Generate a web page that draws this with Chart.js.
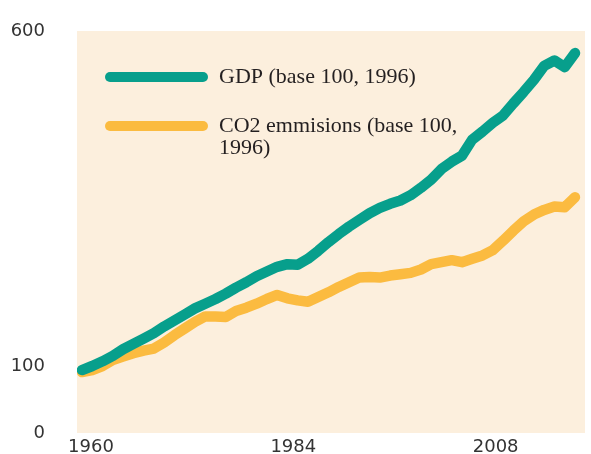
<!DOCTYPE html>
<html>
<head>
<meta charset="utf-8">
<script src="https://cdn.jsdelivr.net/npm/chart.js@4"></script>
<style>
  html, body { margin: 0; padding: 0; background: #ffffff; }
  canvas { display: block; }
</style>
</head>
<body>
<canvas id="c" width="591" height="454"></canvas>
<script>
const years = [1960,1961,1962,1963,1964,1965,1966,1967,1968,1969,
               1970,1971,1972,1973,1974,1975,1976,1977,1978,1979,
               1980,1981,1982,1983,1984,1985,1986,1987,1988,1989,
               1990,1991,1992,1993,1994,1995,1996,1997,1998,1999,
               2000,2001,2002,2003,2004,2005,2006,2007,2008];
const gdp = [94,100,107,115,125,133,141,149,159,168,
             177,186,193,200,208,217,225,234,241,248,
             252,251,260,272,285,297,308,318,328,336,
             342,347,355,366,378,394,405,414,438,450,
             463,474,492,509,527,548,556,546,567];
const co2 = [91,94,100,109,114,119,123,126,135,146,
             156,166,174,174,173,182,187,193,200,206,
             201,198,196,203,210,218,225,232,233,232,
             235,237,239,244,252,255,258,255,260,265,
             273,287,302,316,326,333,338,337,352];
const seriesLabels = ['GDP (base 100, 1996)', 'CO2 emmisions (base 100, 1996)'];
const xTickLabels = [1960, 1984, 2008];
const yTickLabels = [0, 100, 600];

const bgPlugin = {
  id: 'bg',
  beforeDraw(chart) {
    const a = chart.chartArea, ctx = chart.ctx;
    ctx.save();
    ctx.fillStyle = '#fcefdd';
    ctx.fillRect(a.left, a.top, a.right - a.left, a.bottom - a.top);
    ctx.restore();
  }
};

const legendPlugin = {
  id: 'customLegend',
  afterDraw(chart) {
    const ctx = chart.ctx;
    const items = [
      { color: chart.data.datasets[0].borderColor, y: 77, lines: ['GDP (base 100, 1996)'] },
      { color: chart.data.datasets[1].borderColor, y: 126, lines: ['CO2 emmisions (base 100,', '1996)'] }
    ];
    ctx.save();
    items.forEach(it => {
      ctx.strokeStyle = it.color;
      ctx.lineWidth = 10;
      ctx.lineCap = 'round';
      ctx.beginPath();
      ctx.moveTo(110, it.y);
      ctx.lineTo(203, it.y);
      ctx.stroke();
      ctx.fillStyle = '#231f20';
      ctx.font = '22px "Liberation Serif", "Times New Roman", serif';
      ctx.textBaseline = 'alphabetic';
      ctx.textAlign = 'left';
      it.lines.forEach((t, i) => ctx.fillText(t, 219, it.y + 6 + i * 22));
    });
    ctx.restore();
  }
};

new Chart(document.getElementById('c'), {
  type: 'line',
  data: {
    datasets: [
      {
        label: seriesLabels[0],
        data: years.map((y, i) => ({ x: y, y: gdp[i] })),
        borderColor: '#079f8c',
        borderWidth: 10.5,
        borderCapStyle: 'round',
        borderJoinStyle: 'round',
        pointRadius: 0,
        tension: 0,
        xAxisID: 'x',
        yAxisID: 'y'
      },
      {
        label: seriesLabels[1],
        data: years.map((y, i) => ({ x: y, y: co2[i] })),
        borderColor: '#fbbb40',
        borderWidth: 10.5,
        borderCapStyle: 'round',
        borderJoinStyle: 'round',
        pointRadius: 0,
        tension: 0,
        xAxisID: 'x',
        yAxisID: 'y'
      }
    ]
  },
  options: {
    responsive: false,
    devicePixelRatio: 1,
    animation: false,
    layout: { autoPadding: false, padding: { top: 31, right: 6, left: 0, bottom: 0 } },
    plugins: { legend: { display: false }, tooltip: { enabled: false } },
    scales: {
      x: {
        type: 'linear',
        display: false,
        min: 1959.513,
        max: 2008.976
      },
      xl: {
        type: 'linear',
        position: 'bottom',
        min: 1958.345,
        max: 2018.6,
        grid: { display: false, drawTicks: false },
        border: { display: false },
        afterBuildTicks(s) { s.ticks = xTickLabels.map(v => ({ value: v })); },
        afterFit(s) { s.height = 21; s.paddingLeft = 0; s.paddingRight = 0; s.paddingTop = 0; s.paddingBottom = 0; },
        ticks: {
          padding: 4,
          maxRotation: 0,
          autoSkip: false,
          color: '#333333',
          font: { family: 'DejaVu Sans', size: 18 },
          callback: v => String(v)
        }
      },
      y: {
        type: 'linear',
        min: 0,
        max: 600,
        grid: { display: false, drawTicks: false },
        border: { display: false },
        afterBuildTicks(s) { s.ticks = yTickLabels.map(v => ({ value: v })); },
        afterFit(s) { s.width = 77; s.paddingTop = 0; s.paddingBottom = 0; s.paddingLeft = 0; s.paddingRight = 0; },
        ticks: {
          padding: 32,
          autoSkip: false,
          color: '#333333',
          font: { family: 'DejaVu Sans', size: 18 },
          callback: v => String(v)
        }
      }
    }
  },
  plugins: [bgPlugin, legendPlugin]
});
</script>
</body>
</html>
